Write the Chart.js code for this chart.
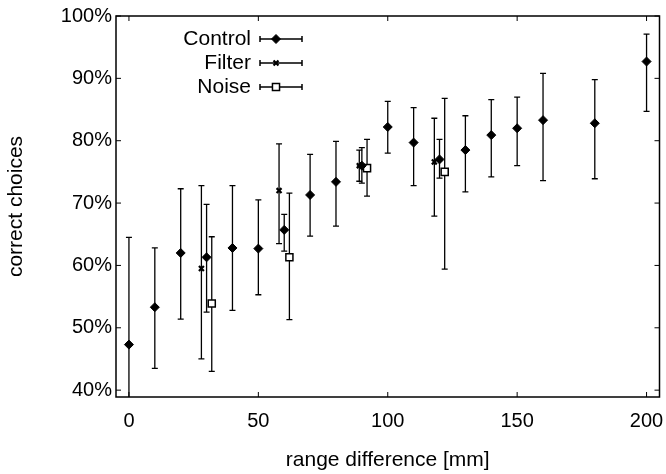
<!DOCTYPE html>
<html lang="en">
<head>
<meta charset="UTF-8">
<title>Correct choices vs range difference</title>
<script src="https://cdn.jsdelivr.net/npm/chart.js@4.4.1/dist/chart.umd.min.js"></script>
<style>
    html, body { margin: 0; padding: 0; background: #fff; }
    .chart-box { position: relative; width: 666px; height: 474px; }
</style>
</head>
<body>
<div class="chart-box"><canvas id="choiceChart" width="666" height="474"></canvas></div>
<script>
// --- data (percent correct, with error bar ends) ---
const controlX    = [0, 10, 20, 30, 40, 50, 60, 70, 80, 90, 100, 110, 120, 130, 140, 150, 160, 180, 200];
const controlY    = [47.3, 53.3, 62.0, 61.3, 62.8, 62.7, 65.7, 71.3, 73.4, 76.0, 82.2, 79.7, 77.0, 78.5, 80.9, 82.0, 83.3, 82.8, 92.7];
const controlLow  = [30.0, 43.5, 51.4, 52.5, 52.8, 55.3, 62.3, 64.7, 66.3, 73.2, 78.0, 72.8, 74.0, 71.8, 74.2, 76.0, 73.6, 73.9, 84.7];
const controlHigh = [64.5, 62.8, 72.3, 69.8, 72.8, 70.5, 68.2, 77.8, 79.9, 78.9, 86.3, 85.3, 80.2, 84.0, 86.6, 87.0, 90.8, 89.8, 97.1];

const filterX    = [28, 58, 89, 118];
const filterY    = [59.5, 72.0, 76.0, 76.6];
const filterLow  = [45.0, 63.5, 73.5, 67.9];
const filterHigh = [72.8, 79.5, 78.5, 83.6];

const noiseX    = [32, 62, 92, 122];
const noiseY    = [53.9, 61.3, 75.6, 75.0];
const noiseLow  = [43.0, 51.3, 71.1, 59.4];
const noiseHigh = [64.6, 71.6, 80.2, 86.8];

const xTicks = [0, 50, 100, 150, 200];
const yTicks = [40, 50, 60, 70, 80, 90, 100];

const FONT = '"Liberation Sans", Arial, Helvetica, sans-serif';
const INK = '#000';

function points(xs, ys) {
    return xs.map((x, i) => ({ x: x, y: ys[i] }));
}

// error bar ends per dataset index
const errorBars = [
    { low: controlLow, high: controlHigh },
    { low: filterLow, high: filterHigh },
    { low: noiseLow, high: noiseHigh }
];

// vertical error bars with small caps, drawn under the markers
const errorBarPlugin = {
    id: 'errorBars',
    beforeDatasetsDraw(chart) {
        const { ctx, chartArea: a, scales: { x, y } } = chart;
        ctx.save();
        ctx.beginPath();
        ctx.rect(a.left, a.top, a.right - a.left, a.bottom - a.top);
        ctx.clip();
        ctx.strokeStyle = INK;
        ctx.lineWidth = 1.3;
        chart.data.datasets.forEach((ds, d) => {
            const bars = errorBars[d];
            ds.data.forEach((pt, i) => {
                const px = x.getPixelForValue(pt.x);
                const lo = y.getPixelForValue(bars.low[i]);
                const hi = y.getPixelForValue(bars.high[i]);
                ctx.beginPath();
                ctx.moveTo(px, lo); ctx.lineTo(px, hi);
                ctx.moveTo(px - 3, lo); ctx.lineTo(px + 3, lo);
                ctx.moveTo(px - 3, hi); ctx.lineTo(px + 3, hi);
                ctx.stroke();
            });
        });
        ctx.restore();
    }
};

// boxed frame with inward tick marks on all four sides
const framePlugin = {
    id: 'frame',
    afterDraw(chart) {
        const { ctx, chartArea: a, scales: { x, y } } = chart;
        ctx.save();
        ctx.strokeStyle = INK;
        ctx.lineWidth = 1.5;
        ctx.strokeRect(a.left, a.top, a.right - a.left, a.bottom - a.top);
        ctx.lineWidth = 1;
        ctx.beginPath();
        yTicks.forEach(v => {
            const py = y.getPixelForValue(v);
            ctx.moveTo(a.left, py); ctx.lineTo(a.left + 5, py);
            ctx.moveTo(a.right, py); ctx.lineTo(a.right - 5, py);
        });
        xTicks.forEach(v => {
            const px = x.getPixelForValue(v);
            ctx.moveTo(px, a.bottom); ctx.lineTo(px, a.bottom - 5);
            ctx.moveTo(px, a.top); ctx.lineTo(px, a.top + 5);
        });
        ctx.stroke();
        ctx.restore();
    }
};

// gnuplot style key: right aligned label, then a sample with error bar ends
const keyPlugin = {
    id: 'key',
    afterDraw(chart) {
        const ctx = chart.ctx;
        const textRight = 251, lineL = 260, lineR = 302, markX = 276;
        ctx.save();
        ctx.font = '21px ' + FONT;
        ctx.textAlign = 'right';
        ctx.textBaseline = 'middle';
        chart.data.datasets.forEach((ds, i) => {
            const rowY = 39 + i * 24;
            ctx.fillStyle = INK;
            ctx.fillText(ds.label, textRight, rowY);
            ctx.strokeStyle = INK;
            ctx.lineWidth = 1.5;
            ctx.beginPath();
            ctx.moveTo(lineL, rowY); ctx.lineTo(lineR, rowY);
            ctx.moveTo(lineL, rowY - 3); ctx.lineTo(lineL, rowY + 3);
            ctx.moveTo(lineR, rowY - 3); ctx.lineTo(lineR, rowY + 3);
            ctx.stroke();
            ctx.fillStyle = ds.pointBackgroundColor;
            ctx.lineWidth = ds.pointBorderWidth;
            Chart.helpers.drawPoint(ctx, {
                pointStyle: ds.pointStyle,
                radius: ds.pointRadius,
                borderWidth: ds.pointBorderWidth,
                rotation: 0
            }, markX, rowY);
        });
        ctx.restore();
    }
};

const ctx = document.getElementById('choiceChart').getContext('2d');
new Chart(ctx, {
    type: 'scatter',
    data: {
        datasets: [
            {
                label: 'Control',
                data: points(controlX, controlY),
                pointStyle: 'rectRot',
                pointRadius: 4.5,
                pointBackgroundColor: INK,
                pointBorderColor: INK,
                pointBorderWidth: 1
            },
            {
                label: 'Filter',
                data: points(filterX, filterY),
                pointStyle: 'crossRot',
                pointRadius: 3.5,
                pointBackgroundColor: INK,
                pointBorderColor: INK,
                pointBorderWidth: 2.2
            },
            {
                label: 'Noise',
                data: points(noiseX, noiseY),
                pointStyle: 'rect',
                pointRadius: 5,
                pointBackgroundColor: '#fff',
                pointBorderColor: INK,
                pointBorderWidth: 1.5
            }
        ]
    },
    options: {
        responsive: false,
        animation: false,
        layout: { padding: { top: 14, right: 0, left: 0, bottom: 0 } },
        plugins: {
            legend: { display: false },
            tooltip: { enabled: false }
        },
        scales: {
            x: {
                type: 'linear',
                min: -5,
                max: 205,
                afterBuildTicks: s => { s.ticks = xTicks.map(v => ({ value: v })); },
                afterFit: s => {
                    s.height = 77;
                    // let the "200" label run into the right margin, like the original
                    s.paddingRight = 0;
                    s.paddingLeft = 0;
                },
                grid: { display: false, drawTicks: false },
                border: { display: false },
                ticks: {
                    padding: 12,
                    color: INK,
                    font: { family: FONT, size: 20 },
                    maxRotation: 0
                },
                title: {
                    display: true,
                    text: 'range difference [mm]',
                    color: INK,
                    font: { family: FONT, size: 21 },
                    padding: { top: 0, bottom: 1 }
                }
            },
            y: {
                type: 'linear',
                min: 38.9,
                max: 100,
                afterBuildTicks: s => { s.ticks = yTicks.map(v => ({ value: v })); },
                afterFit: s => { s.width = 116; },
                grid: { display: false, drawTicks: false },
                border: { display: false },
                ticks: {
                    padding: 4,
                    color: INK,
                    font: { family: FONT, size: 20 },
                    callback: v => v + '%'
                },
                title: {
                    display: true,
                    text: 'correct choices',
                    color: INK,
                    font: { family: FONT, size: 21 },
                    padding: { top: 4, bottom: 4 }
                }
            }
        }
    },
    plugins: [errorBarPlugin, framePlugin, keyPlugin]
});
</script>
</body>
</html>
